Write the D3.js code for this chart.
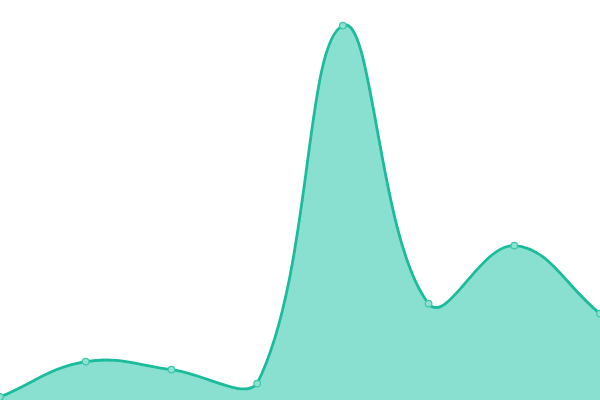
<!DOCTYPE html>
<html>
<head>
	<meta charset="utf-8">
	<script src="https://d3js.org/d3.v7.min.js"></script>
	<style>
		body{ margin: 0; background: #fff; overflow: hidden; }
		svg{ display: block; }
		.area{ fill: #8ae0d0; stroke: none; }
		.line{ fill: none; stroke: #1abc9c; stroke-width: 2.8; }
		.dot{ fill: #8ee2d1; stroke: #3fc7aa; stroke-width: 1.2; }
	</style>
</head>
<body>
	<script>
		var width = 600, height = 400;

		// values (y scale 0..100)
		var labels = ["1", "2", "3", "4", "5", "6", "7", "8"];
		var values = [0.75, 9.6, 7.6, 4.1, 93.6, 24.1, 38.6, 21.6];

		var svg = d3.select("body").append("svg")
					.attr("width", width).attr("height", height);

		var x = d3.scalePoint().domain(labels).range([0, width]);
		var y = d3.scaleLinear().domain([0, 100]).range([height, 0]);

		// spline like the one in the original chart: tension 0.4,
		// control points kept inside the chart area
		function splineCurve(context){
			var tension = 0.4;
			return {
				areaStart: function(){ this._line = 0; },
				areaEnd: function(){ this._line = NaN; },
				lineStart: function(){ this._pts = []; },
				point: function(px, py){ this._pts.push([+px, +py]); },
				lineEnd: function(){
					var p = this._pts, n = p.length, cps = [];
					for (var i = 0; i < n; i++){
						var prev = p[i-1] || p[i], cur = p[i], next = p[i+1] || p[i];
						var d01 = Math.hypot(cur[0]-prev[0], cur[1]-prev[1]);
						var d12 = Math.hypot(next[0]-cur[0], next[1]-cur[1]);
						var s = d01 + d12;
						var fa = s ? tension*d01/s : 0, fb = s ? tension*d12/s : 0;
						var cap = function(v, lo, hi){ return Math.max(lo, Math.min(hi, v)); };
						cps.push({
							px: cap(cur[0] - fa*(next[0]-prev[0]), 0, width),
							py: cap(cur[1] - fa*(next[1]-prev[1]), 0, height),
							nx: cap(cur[0] + fb*(next[0]-prev[0]), 0, width),
							ny: cap(cur[1] + fb*(next[1]-prev[1]), 0, height)
						});
					}
					if (n){
						if (this._line) context.lineTo(p[0][0], p[0][1]);
						else context.moveTo(p[0][0], p[0][1]);
						for (var j = 1; j < n; j++){
							context.bezierCurveTo(cps[j-1].nx, cps[j-1].ny, cps[j].px, cps[j].py, p[j][0], p[j][1]);
						}
					}
					if (this._line || (this._line !== 0 && n === 1)) context.closePath();
					this._line = 1 - this._line;
				}
			};
		}

		var area = d3.area()
					.x(function(d, i){ return x(labels[i]); })
					.y0(height)
					.y1(function(d){ return y(d); })
					.curve(splineCurve);

		var line = d3.line()
					.x(function(d, i){ return x(labels[i]); })
					.y(function(d){ return y(d); })
					.curve(splineCurve);

		svg.append("path").attr("class", "area").attr("d", area(values));
		svg.append("path").attr("class", "line").attr("d", line(values));

		svg.append("g").selectAll("circle")
			.data(values)
			.enter().append("circle")
			.attr("class", "dot")
			.attr("cx", function(d, i){ return x(labels[i]); })
			.attr("cy", function(d){ return y(d); })
			.attr("r", 3.3);
	</script>
</body>
</html>
